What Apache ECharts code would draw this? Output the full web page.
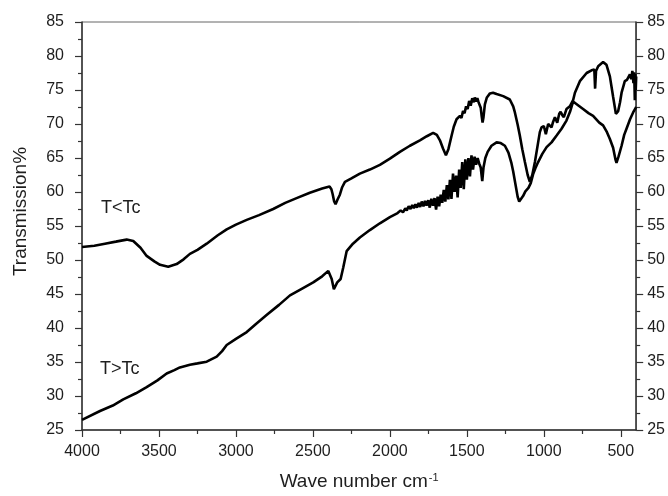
<!DOCTYPE html>
<html>
<head>
<meta charset="utf-8">
<script src="https://cdn.jsdelivr.net/npm/echarts@6/dist/echarts.min.js"></script>
<style>
  html, body { margin: 0; padding: 0; background: #fff; }
  #ftirChart { width: 668px; height: 496px; }
</style>
</head>
<body>
<div id="ftirChart"></div>
<script>
// spectra: [wave number cm-1, transmission %]
const belowTc = [
  [4000, 51.9], [3920, 52.1], [3851, 52.4], [3780, 52.7], [3710, 53.0], [3667, 52.8], [3620, 51.8],
  [3580, 50.6], [3530, 49.8], [3493, 49.3], [3440, 49.0], [3385, 49.4], [3340, 50.1], [3299, 50.9],
  [3250, 51.5], [3190, 52.4], [3120, 53.6], [3060, 54.5], [3000, 55.2], [2930, 55.9], [2850, 56.6],
  [2758, 57.5], [2680, 58.4], [2606, 59.1], [2520, 59.9], [2440, 60.5], [2392, 60.8], [2380, 60.4],
  [2372, 59.7], [2362, 58.6], [2353, 58.2], [2340, 58.9], [2325, 59.6], [2310, 60.7], [2292, 61.5],
  [2250, 62.0], [2195, 62.7], [2130, 63.3], [2065, 64.0], [2000, 64.9], [1935, 65.9], [1870, 66.8],
  [1805, 67.6], [1760, 68.2], [1719, 68.7], [1695, 68.4], [1675, 67.6], [1655, 66.4], [1636, 65.4],
  [1620, 66.3], [1599, 68.3], [1585, 69.6], [1567, 70.7], [1555, 70.5], [1545, 71.2], [1535, 70.9],
  [1525, 71.9], [1515, 71.6], [1505, 72.6], [1495, 72.2], [1485, 73.4], [1475, 72.7], [1465, 73.8],
  [1455, 73.2], [1448, 73.9], [1440, 73.3], [1432, 73.8], [1424, 73.2], [1416, 73.4], [1410, 72.4],
  [1404, 71.2], [1398, 70.2], [1392, 71.0], [1383, 72.9], [1370, 73.9], [1350, 74.5], [1330, 74.6],
  [1307, 74.4], [1264, 74.1], [1221, 73.6], [1199, 72.6], [1188, 71.7], [1170, 69.9], [1156, 68.3],
  [1140, 66.3], [1123, 64.4], [1105, 62.5], [1091, 61.5], [1075, 62.5], [1058, 64.4], [1037, 67.3],
  [1026, 68.8], [1015, 69.5], [1000, 69.7], [987, 68.5], [972, 70.0], [960, 70.2], [950, 69.5],
  [940, 70.3], [928, 71.0], [913, 70.2], [900, 71.5], [891, 71.8], [880, 71.3], [870, 71.0],
  [853, 72.2], [831, 72.6], [810, 73.5], [798, 74.6], [766, 76.3], [722, 77.5], [690, 77.9],
  [672, 78.0], [667, 75.2], [661, 77.8], [647, 78.5], [615, 79.1], [593, 78.7], [571, 77.0],
  [550, 74.0], [532, 71.5], [524, 71.3], [517, 71.9], [505, 73.2], [495, 74.6], [474, 76.3],
  [460, 76.5], [441, 77.3], [432, 76.6], [425, 77.8], [418, 76.0], [413, 77.6], [409, 73.5],
  [406, 77.4], [403, 75.0], [400, 77.0]
];

const aboveTc = [
  [4000, 26.5], [3883, 27.8], [3800, 28.6], [3732, 29.5], [3650, 30.4], [3580, 31.3], [3510, 32.3],
  [3450, 33.3], [3400, 33.8], [3364, 34.2], [3299, 34.6], [3250, 34.8], [3190, 35.05], [3125, 35.8],
  [3090, 36.6], [3060, 37.5], [3000, 38.4], [2930, 39.4], [2870, 40.6], [2801, 41.9], [2720, 43.4],
  [2649, 44.8], [2570, 45.8], [2498, 46.7], [2440, 47.6], [2400, 48.4], [2378, 47.2], [2364, 45.7],
  [2342, 46.7], [2320, 47.2], [2303, 48.9], [2281, 51.3], [2240, 52.4], [2195, 53.3], [2130, 54.4],
  [2065, 55.4], [2000, 56.3], [1950, 56.9], [1930, 57.3], [1915, 57.0], [1900, 57.6], [1890, 57.3],
  [1878, 57.9], [1866, 57.5], [1855, 58.1], [1845, 57.6], [1834, 58.2], [1824, 57.7], [1813, 58.4],
  [1803, 57.8], [1793, 58.6], [1782, 57.9], [1772, 58.7], [1762, 58.0], [1751, 58.8], [1741, 57.7],
  [1731, 59.0], [1720, 58.0], [1710, 59.1], [1700, 57.4], [1690, 59.3], [1680, 57.9], [1670, 59.6],
  [1660, 58.4], [1650, 60.3], [1640, 58.6], [1630, 61.0], [1620, 58.9], [1610, 61.8], [1600, 59.0],
  [1590, 62.7], [1580, 60.0], [1570, 62.4], [1560, 59.2], [1550, 63.3], [1540, 60.6], [1530, 64.4],
  [1520, 60.4], [1510, 64.8], [1500, 61.8], [1490, 65.0], [1480, 62.3], [1470, 65.4], [1460, 63.3],
  [1450, 65.2], [1440, 64.0], [1430, 65.0], [1420, 64.2], [1410, 63.6], [1400, 61.6], [1392, 63.6],
  [1380, 65.0], [1365, 65.9], [1340, 66.8], [1307, 67.3], [1280, 67.2], [1253, 66.8], [1230, 65.8],
  [1210, 64.2], [1199, 63.0], [1185, 61.2], [1170, 59.3], [1160, 58.6], [1150, 58.6], [1135, 59.4],
  [1120, 60.1], [1100, 60.6], [1085, 61.3], [1070, 62.6], [1055, 63.5], [1037, 64.4], [1010, 65.6],
  [982, 66.6], [950, 67.3], [917, 68.3], [885, 69.3], [853, 70.5], [830, 71.8], [810, 73.3],
  [780, 72.8], [745, 72.2], [710, 71.6], [680, 71.2], [640, 70.2], [615, 69.8], [590, 68.8],
  [571, 67.8], [550, 66.5], [535, 64.8], [528, 64.3], [515, 65.2], [495, 66.8], [478, 68.4],
  [463, 69.3], [440, 70.7], [420, 71.7], [405, 72.3], [400, 72.5]
];

const xMajorTicks = [4000, 3500, 3000, 2500, 2000, 1500, 1000, 500];
const xMinorTicks = [3750, 3250, 2750, 2250, 1750, 1250, 750];

const ink = '#1e1e1e';
const font = 'Liberation Sans, Arial, sans-serif';

function yAxisOf(side, margin) {
  return {
    type: 'value',
    position: side,
    min: 25,
    max: 85,
    interval: 5,
    axisLine: { show: true, lineStyle: { color: '#333', width: 1.5 } },
    axisTick: { show: true, inside: false, length: 7, lineStyle: { color: '#333', width: 1.2 } },
    minorTick: { show: true, splitNumber: 2, length: 4, lineStyle: { color: '#333', width: 1.2 } },
    axisLabel: { color: ink, fontSize: 16, fontFamily: font, margin: margin },
    splitLine: { show: false }
  };
}

let leftAxis = yAxisOf('left', 18);
leftAxis.name = 'Transmission%';
leftAxis.nameLocation = 'middle';
leftAxis.nameGap = 52;
leftAxis.nameTextStyle = { color: ink, fontSize: 19, fontFamily: font, padding: [0, 0, 0, 29] };

let myChart = echarts.init(document.getElementById('ftirChart'), null, { renderer: 'canvas' });
myChart.setOption({
  animation: false,
  backgroundColor: '#fff',
  grid: { left: 82, right: 31, top: 22, bottom: 62, show: true, borderColor: '#666', borderWidth: 1 },
  xAxis: [{
    type: 'value',
    inverse: true,
    min: 400,
    max: 4000,
    name: 'Wave number cm{sup|-1}',
    nameLocation: 'middle',
    nameGap: 42,
    nameTextStyle: {
      color: ink, fontSize: 19, fontFamily: font,
      rich: { sup: { color: ink, fontSize: 11, fontFamily: font, verticalAlign: 'top', padding: [0, 0, 0, 1] } }
    },
    axisLine: { show: true, onZero: false, lineStyle: { color: '#333', width: 1.5 } },
    axisTick: { show: true, length: 7, customValues: xMajorTicks, lineStyle: { color: '#333', width: 1.2 } },
    axisLabel: {
      color: ink, fontSize: 16, fontFamily: font, margin: 14, customValues: xMajorTicks,
      formatter: function (v) { return String(v); }
    },
    splitLine: { show: false }
  }, {
    // only carries the short in-between ticks
    type: 'value',
    position: 'bottom',
    inverse: true,
    min: 400,
    max: 4000,
    axisLine: { show: false, onZero: false },
    axisTick: { show: true, length: 4, customValues: xMinorTicks, lineStyle: { color: '#333', width: 1.2 } },
    axisLabel: { show: false },
    splitLine: { show: false }
  }],
  yAxis: [leftAxis, yAxisOf('right', 11)],
  graphic: [
    { type: 'text', left: 101, top: 199, style: { text: 'T<Tc', fill: ink, fontSize: 18, fontFamily: font } },
    { type: 'text', left: 100, top: 360, style: { text: 'T>Tc', fill: ink, fontSize: 18, fontFamily: font } }
  ],
  series: [{
    name: 'T<Tc',
    type: 'line',
    data: belowTc,
    showSymbol: false,
    lineStyle: { color: '#000', width: 2.6 },
    z: 3
  }, {
    name: 'T>Tc',
    type: 'line',
    data: aboveTc,
    showSymbol: false,
    lineStyle: { color: '#000', width: 2.6 },
    z: 3
  }]
});
</script>
</body>
</html>
